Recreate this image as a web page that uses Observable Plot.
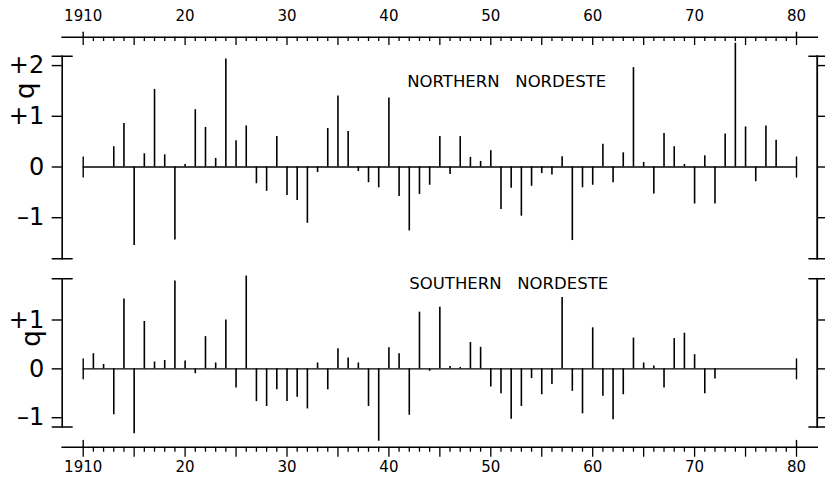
<!DOCTYPE html>
<html>
<head>
<meta charset="utf-8">
<script src="https://cdn.jsdelivr.net/npm/d3@7"></script>
<script src="https://cdn.jsdelivr.net/npm/@observablehq/plot@0.6"></script>
<style>
  html, body { margin: 0; padding: 0; background: #fff; }
  #chart { position: relative; width: 825px; height: 477px; overflow: hidden; background: #fff; }
  #chart svg { position: absolute; left: 0; }
</style>
</head>
<body>
<div id="chart"></div>
<script>
// Annual runoff index q, 1911–1979, for the two halves of the Nordeste
const START = 1910, END = 1980;
const years = d3.range(1911, 1980);

const northQ = [
  0, 0, 0.40, 0.86, -1.55, 0.26, 1.53, 0.24, -1.44, 0.05,
  1.13, 0.78, 0.17, 2.13, 0.52, 0.81, -0.33, -0.48, 0.60, -0.56,
  -0.66, -1.11, -0.11, 0.76, 1.40, 0.70, -0.09, -0.31, -0.41, 1.36,
  -0.58, -1.26, -0.54, -0.36, 0.60, -0.15, 0.60, 0.19, 0.11, 0.32,
  -0.84, -0.42, -0.97, -0.38, -0.13, -0.16, 0.20, -1.45, -0.41, -0.36,
  0.45, -0.31, 0.28, 1.96, 0.09, -0.53, 0.66, 0.40, 0.05, -0.73,
  0.22, -0.73, 0.65, 2.44, 0.79, -0.29, 0.81, 0.53, 0
];

const southQ = [
  0.31, 0.09, -0.94, 1.43, -1.33, 0.97, 0.14, 0.17, 1.80, 0.16,
  -0.10, 0.66, 0.12, 1.00, -0.39, 1.90, -0.67, -0.77, -0.43, -0.67,
  -0.58, -0.82, 0.12, -0.43, 0.41, 0.22, 0.12, -0.77, -1.48, 0.43,
  0.31, -0.95, 1.16, -0.05, 1.26, 0.05, 0.03, 0.54, 0.44, -0.37,
  -0.51, -1.03, -0.77, -0.20, -0.53, -0.32, 1.46, -0.46, -0.92, 0.84,
  -0.56, -1.04, -0.53, 0.63, 0.12, 0.06, -0.39, 0.62, 0.73, 0.29,
  -0.51, -0.21, 0, 0, 0, 0, 0, 0, 0
];

const decadeTicks = [1910, 1920, 1930, 1940, 1950, 1960, 1970, 1980];
const decadeLabels = ["1910", "20", "30", "40", "50", "60", "70", "80"];
const allYears = d3.range(START, END + 1);
const fiveYears = allYears.filter(y => y % 5 === 0);
const oneYears = allYears.filter(y => y % 5 !== 0);

const northTicks = [-1, 0, 1, 2];
const southTicks = [-1, 0, 1];
const northTitle = "NORTHERN   NORDESTE";
const southTitle = "SOUTHERN   NORDESTE";
const yLabel = "q";

// shared layout
const W = 825, ML = 61.7, MR = 8.3;
const X = {domain: [START, END], insetLeft: 21, insetRight: 20.7};
const FONT = "DejaVu Sans";
const baseStyle = {background: "transparent", overflow: "visible", color: "#000", fontFamily: FONT};
const line = {draw(ctx, l) { ctx.moveTo(0, 0); ctx.lineTo(0, -l); }};
const fmtQ = d => d > 0 ? `+${d}` : d < 0 ? `–${-d}` : "0";

const chart = document.getElementById("chart");
function place(svg, top) { svg.style.top = top + "px"; chart.appendChild(svg); }

function panel({top, height, marginTop, marginBottom, domain, ticks, values, title, titleX, titleY, qY, qDx}) {
  const rows = years.map((year, i) => ({year, q: values[i]}));
  const svg = Plot.plot({
    width: W, height, marginTop, marginBottom, marginLeft: ML, marginRight: MR,
    x: {...X, axis: null},
    y: {domain},
    style: baseStyle,
    marks: [
      Plot.frame({anchor: "left", strokeWidth: 1.6}),
      Plot.frame({anchor: "right", strokeWidth: 1.8}),
      Plot.axisY(ticks, {anchor: "left", tickSize: 10, tickPadding: 8, tickFormat: fmtQ, fontSize: 24, label: null, strokeWidth: 1.4}),
      Plot.axisY(ticks, {anchor: "right", tickSize: 8.3, fill: "none", tickFormat: () => "", label: null, strokeWidth: 1.4}),
      // end caps on both vertical axes
      Plot.vector(domain, {y: d => d, frameAnchor: "left", dx: -10, length: 20, rotate: 90, anchor: "start", shape: line, strokeWidth: 1.4}),
      Plot.vector(domain, {y: d => d, frameAnchor: "right", dx: -8.3, length: 16.6, rotate: 90, anchor: "start", shape: line, strokeWidth: 1.4}),
      // zero line with its end caps
      Plot.ruleY([0], {x1: START, x2: END, strokeWidth: 1.3}),
      Plot.vector([START, END], {x: d => d, y: () => 0, length: 20, anchor: "middle", shape: line, strokeWidth: 1.4}),
      // yearly anomalies
      Plot.ruleX(rows, {x: "year", y1: 0, y2: "q", strokeWidth: 1.6}),
      Plot.text([title], {x: () => titleX, y: () => titleY, textAnchor: "start", fontSize: 16.5}),
      Plot.text([yLabel], {frameAnchor: "left", y: () => qY, dx: qDx, rotate: -90, fontSize: 26})
    ]
  });
  place(svg, top);
}

function timeAxis({top, height, marginBottom, minorSize, majorSize, capUp, labelDy}) {
  const svg = Plot.plot({
    width: W, height, marginTop: 0, marginBottom, marginLeft: ML, marginRight: MR,
    x: X,
    style: baseStyle,
    marks: [
      Plot.frame({anchor: "bottom", strokeWidth: 1.6}),
      Plot.axisX(oneYears, {anchor: "bottom", tickSize: minorSize, fill: "none", tickFormat: () => "", label: null, strokeWidth: 1.3}),
      Plot.axisX(fiveYears, {anchor: "bottom", tickSize: majorSize, fill: "none", tickFormat: () => "", label: null, strokeWidth: 1.3}),
      Plot.vector([START, END], {x: d => d, frameAnchor: "bottom", length: capUp, anchor: "start", shape: line, strokeWidth: 1.4}),
      Plot.text(decadeTicks, {x: d => d, frameAnchor: "bottom", dy: labelDy, text: (d, i) => decadeLabels[i], fontSize: 15})
    ]
  });
  place(svg, top);
}

panel({
  top: 0, height: 262, marginTop: 55.7, marginBottom: 3.7,
  domain: [-1.81, 2.185], ticks: northTicks, values: northQ,
  title: northTitle, titleX: 1941.8, titleY: 1.69, qY: 1.34, qDx: -37
});
panel({
  top: 262, height: 170, marginTop: 16.3, marginBottom: 5.5,
  domain: [-1.19, 1.843], ticks: southTicks, values: southQ,
  title: southTitle, titleX: 1942.0, titleY: 1.75, qY: 0.45, qDx: -31
});
timeAxis({top: 0, height: 46, marginBottom: 9.3, minorSize: 4.3, majorSize: 8.3, capUp: 5, labelDy: -16.4});
timeAxis({top: 432, height: 45, marginBottom: 30.3, minorSize: 5, majorSize: 10, capUp: 6.7, labelDy: 24.3});
</script>
</body>
</html>
